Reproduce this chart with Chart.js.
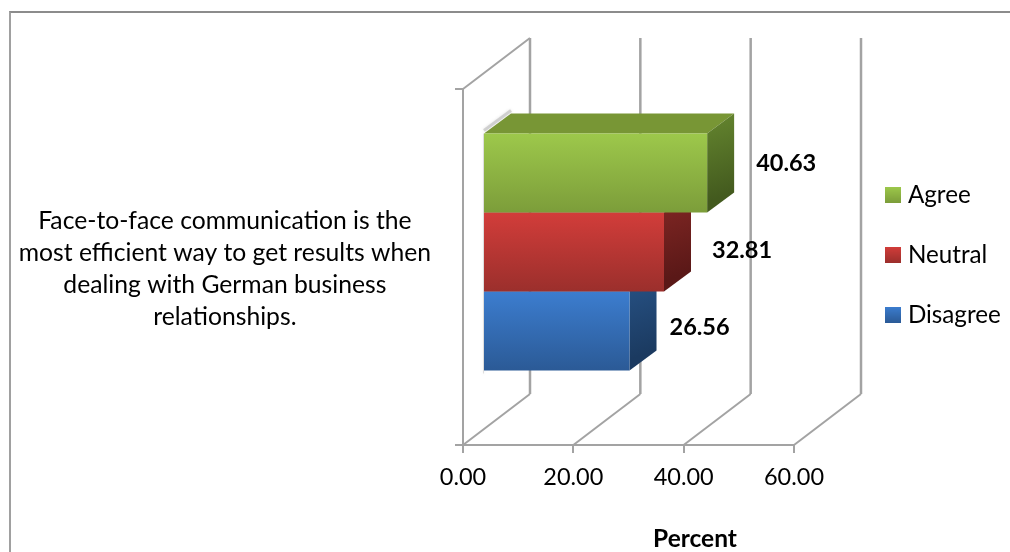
<!DOCTYPE html>
<html>
<head>
<meta charset="utf-8">
<title>Face-to-face communication</title>
<script src="https://cdn.jsdelivr.net/npm/chart.js@4"></script>
<style>
  html, body { margin: 0; padding: 0; background: #fff; overflow: hidden; }
  #wrap { position: relative; width: 1010px; height: 552px; overflow: hidden; }
  #frame { position: absolute; left: 9px; top: 11px; width: 1100px; height: 700px; border: 2px solid #8c8c8c; border-left-color: #a0a0a0; }
  canvas { position: absolute; left: 0; top: 0; }
</style>
</head>
<body>
<div id="wrap">
  <div id="frame"></div>
  <canvas id="barChart" width="1010" height="552"></canvas>
</div>
<script>
const categories = [['Face-to-face communication is the', 'most efficient way to get results when', 'dealing with German business', 'relationships.']];
const seriesNames = ['Agree', 'Neutral', 'Disagree'];
const agree = [40.63];
const neutral = [32.81];
const disagree = [26.56];
const xTickLabels = ['0.00', '20.00', '40.00', '60.00'];
const xAxisTitle = 'Percent';

const FONT = 'Lato';
const AXIS_GREY = '#a3a3a3';
const CATEGORY_PCT = 0.6657;
// how far the bars sit behind the front of the box, and the depth of the box and bars
const BAR_SHIFT = { x: 20, y: -15 };
const BAR_DEPTH = { x: 27, y: -20 };
const WALL_DEPTH = { x: 67, y: -51 };

const faces = [
  { front: ['#9dc84b', '#7c9d3a'], top: '#789635', side: ['#65862f', '#435a1e'] },
  { front: ['#d23d3a', '#9b2f2c'], top: '#8c2a28', side: ['#842825', '#5a1817'] },
  { front: ['#3c7dcf', '#2b5a96'], top: '#2b5a96', side: ['#285488', '#1b3a60'] }
];
// data label offset from the end of the bar's front face
const labelOffsets = [{ x: 49, y: -10 }, { x: 48, y: -2 }, { x: 40, y: -4 }];

function gradient(ctx, x0, y0, x1, y1, stops) {
  const g = ctx.createLinearGradient(x0, y0, x1, y1);
  g.addColorStop(0, stops[0]);
  g.addColorStop(1, stops[1]);
  return g;
}

function frontFace(context) {
  const chart = context.chart;
  const i = context.datasetIndex;
  if (!chart.chartArea) return faces[i].front[0];
  const area = chart.chartArea;
  const group = area.height * CATEGORY_PCT;
  const barH = group / seriesNames.length;
  const top = (area.top + area.bottom) / 2 - group / 2 + barH * i;
  return gradient(chart.ctx, 0, top, 0, top + barH, faces[i].front);
}

function swatch(stops) {
  const c = document.createElement('canvas');
  c.width = 16;
  c.height = 16;
  const ctx = c.getContext('2d');
  ctx.fillStyle = gradient(ctx, 0, 0, 0, 16, stops);
  ctx.fillRect(0, 0, 16, 16);
  return c;
}

function polygon(ctx, pts, fill) {
  ctx.beginPath();
  pts.forEach((p, i) => (i ? ctx.lineTo(p[0], p[1]) : ctx.moveTo(p[0], p[1])));
  ctx.closePath();
  ctx.fillStyle = fill;
  ctx.fill();
}

function segment(ctx, x1, y1, x2, y2, width) {
  ctx.beginPath();
  ctx.moveTo(x1, y1);
  ctx.lineTo(x2, y2);
  ctx.lineWidth = width;
  ctx.strokeStyle = AXIS_GREY;
  ctx.stroke();
}

const box3d = {
  id: 'box3d',
  beforeDraw(chart) {
    // the legend stays out of the layout and goes right of the box
    const legend = chart.legend;
    legend.left = 854;
    legend.right = legend.left + legend.width;
    legend.top = 147;
    legend.bottom = legend.top + legend.height;
  },
  beforeDatasetsDraw(chart) {
    const ctx = chart.ctx;
    const area = chart.chartArea;
    const xScale = chart.scales.x;
    ctx.save();
    // back wall and floor lines
    xScale.ticks.forEach(t => {
      const x = xScale.getPixelForValue(t.value);
      segment(ctx, x, area.bottom, x + WALL_DEPTH.x, area.bottom + WALL_DEPTH.y, 2);
      segment(ctx, x + WALL_DEPTH.x, area.bottom + WALL_DEPTH.y, x + WALL_DEPTH.x, area.top + WALL_DEPTH.y, 2.5);
    });
    segment(ctx, area.left, area.top, area.left + WALL_DEPTH.x, area.top + WALL_DEPTH.y, 2);
    // soft shadow along the top and left of the bars
    const first = chart.getDatasetMeta(0).data[0];
    const last = chart.getDatasetMeta(seriesNames.length - 1).data[0];
    const bx = first.base + BAR_SHIFT.x;
    const by = first.y - first.height / 2 + BAR_SHIFT.y;
    const ey = last.y + last.height / 2 + BAR_SHIFT.y;
    ctx.shadowColor = 'rgba(140,140,140,0.5)';
    ctx.shadowBlur = 3;
    ctx.strokeStyle = 'rgba(170,170,170,0.45)';
    ctx.lineWidth = 3;
    ctx.beginPath();
    ctx.moveTo(bx + BAR_DEPTH.x, by + BAR_DEPTH.y - 3);
    ctx.lineTo(bx, by - 3);
    ctx.stroke();
    ctx.strokeStyle = 'rgba(170,170,170,0.35)';
    ctx.lineWidth = 1;
    ctx.beginPath();
    ctx.moveTo(bx - 0.5, by);
    ctx.lineTo(bx - 0.5, ey + 3);
    ctx.stroke();
    ctx.restore();
  },
  beforeDatasetDraw(chart, args) {
    const ctx = chart.ctx;
    const bar = args.meta.data[0];
    const f = faces[args.index];
    const h = bar.height;
    ctx.save();
    ctx.translate(BAR_SHIFT.x, BAR_SHIFT.y);
    const l = bar.base, r = bar.x, t = bar.y - h / 2, b = bar.y + h / 2;
    const d = BAR_DEPTH;
    polygon(ctx, [[l, t], [l + d.x, t + d.y], [r + d.x, t + d.y], [r, t]], f.top);
    polygon(ctx, [[r, t], [r + d.x, t + d.y], [r + d.x, b + d.y], [r, b]], gradient(ctx, r, t + d.y, r + d.x, b + d.y, f.side));
  },
  afterDatasetDraw(chart) {
    chart.ctx.restore();
  },
  afterDatasetsDraw(chart) {
    const ctx = chart.ctx;
    const area = chart.chartArea;
    ctx.save();
    ctx.fillStyle = '#000';
    ctx.textBaseline = 'middle';
    ctx.textAlign = 'left';
    ctx.font = 'bold 23.5px ' + FONT;
    chart.data.datasets.forEach((ds, i) => {
      const bar = chart.getDatasetMeta(i).data[0];
      const o = labelOffsets[i];
      ctx.fillText(ds.data[0].toFixed(2), bar.x + BAR_SHIFT.x + o.x, bar.y + BAR_SHIFT.y + o.y);
    });
    // axis title sits right of the middle of the axis, so the scale title can't be used
    ctx.font = 'bold 24.5px ' + FONT;
    ctx.textAlign = 'center';
    ctx.fillText(xAxisTitle, area.right - 99, area.bottom + 94);
    ctx.restore();
  }
};

new Chart(document.getElementById('barChart').getContext('2d'), {
  type: 'bar',
  data: {
    labels: categories,
    datasets: [
      { label: seriesNames[0], data: agree, backgroundColor: frontFace },
      { label: seriesNames[1], data: neutral, backgroundColor: frontFace },
      { label: seriesNames[2], data: disagree, backgroundColor: frontFace }
    ]
  },
  options: {
    indexAxis: 'y',
    responsive: false,
    animation: false,
    events: [],
    datasets: { bar: { barPercentage: 1, categoryPercentage: CATEGORY_PCT, borderWidth: 0 } },
    layout: { padding: { left: 0, right: 216, top: 89, bottom: 0 } },
    scales: {
      x: {
        min: 0,
        max: 60,
        ticks: {
          stepSize: 20,
          padding: 10,
          color: '#000',
          maxRotation: 0,
          font: { family: FONT, size: 23.5 },
          callback: (value, index) => xTickLabels[index]
        },
        grid: { drawOnChartArea: false, drawTicks: true, tickLength: 8, color: AXIS_GREY, lineWidth: 2 },
        border: { color: AXIS_GREY, width: 2 },
        afterFit: scale => { scale.height = 107; }
      },
      y: {
        ticks: {
          crossAlign: 'center',
          padding: 24,
          labelOffset: 2,
          color: '#000',
          autoSkip: false,
          font: { family: FONT, size: 24.7, lineHeight: 32 / 24.7 }
        },
        grid: { drawOnChartArea: false, drawTicks: true, tickLength: 8, color: AXIS_GREY, lineWidth: 2 },
        border: { color: AXIS_GREY, width: 2 },
        afterFit: scale => { scale.width = 463; }
      }
    },
    plugins: {
      tooltip: { enabled: false },
      legend: {
        position: 'chartArea',
        align: 'start',
        labels: {
          color: '#000',
          padding: 35.8,
          usePointStyle: true,
          pointStyleWidth: 6,
          boxHeight: 16,
          font: { family: FONT, size: 24.2 },
          generateLabels: chart => chart.data.datasets.map((ds, i) => ({
            text: ds.label,
            pointStyle: swatch(faces[i].front),
            fontColor: '#000',
            lineWidth: 0,
            datasetIndex: i
          }))
        }
      }
    }
  },
  plugins: [box3d]
});
</script>
</body>
</html>
